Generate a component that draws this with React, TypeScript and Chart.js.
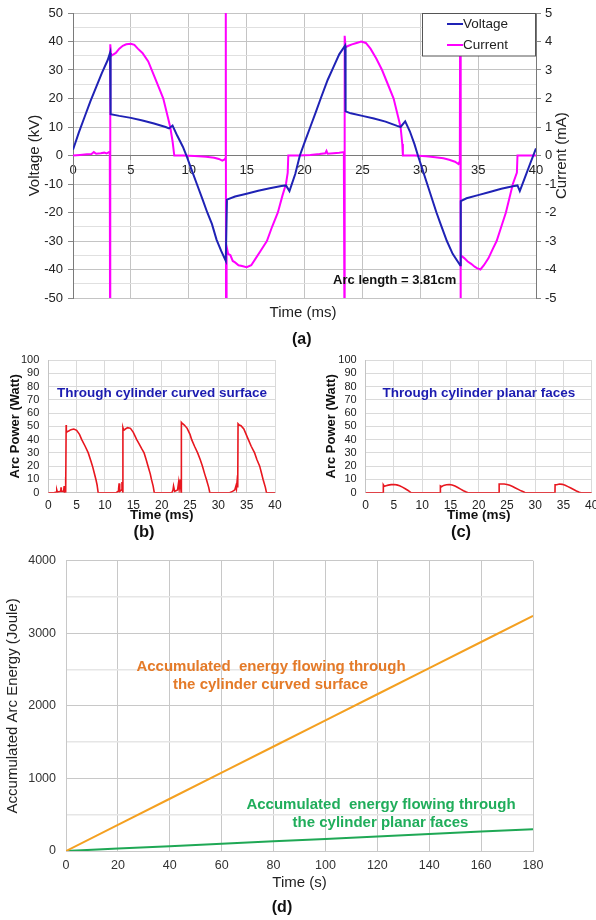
import React, { useEffect, useRef } from 'react';
import { Chart, registerables } from 'chart.js';

Chart.register(...registerables);

const FONT = "'Liberation Sans', Arial, Helvetica, sans-serif";
Chart.defaults.font.family = FONT;
Chart.defaults.color = '#222';

// ---------------- (a) Voltage / Current ----------------
const voltageTime = [
  0, 0.5, 1, 1.5, 2, 2.5, 3, 3.2,
  3.25, 4, 5, 6, 7, 8, 8.3, 8.6,
  9, 9.5, 9.8, 10.2, 10.7, 11.2, 11.6, 12, 12.4, 12.8, 13.2,
  13.3, 14, 15, 16, 17, 18, 18.4, 18.7,
  19.2, 19.6, 20, 20.5, 21, 21.4, 22, 22.5, 23, 23.5,
  23.55, 24, 25, 26, 27, 28, 28.3, 28.7,
  29.1, 29.5, 29.8, 30.2, 30.6, 31, 31.4, 31.8, 32.3, 32.8, 33.45,
  33.5, 34, 35, 36, 37, 38, 38.4, 38.6,
  39, 39.5, 40,
];
const voltageKV = [
  2, 8, 13.5, 19, 24, 29, 33.5, 36,
  14.5, 13.9, 13.2, 12.3, 11.2, 10, 9.5, 10.5,
  7, 3, 0, -4.5, -10, -15.5, -20, -24, -29.5, -33.5, -37,
  -15.5, -14.4, -13.4, -12.4, -11.5, -10.7, -10.5, -12.5,
  -6.5, 0, 4.5, 10, 15.5, 20, 26.5, 31, 35.5, 38.5,
  15.5, 14.8, 13.9, 13, 11.9, 10.4, 10, 12,
  8.5, 4, 0, -5, -10, -15, -20, -24.5, -30, -34.5, -38.5,
  -16, -15, -13.9, -12.8, -11.7, -10.8, -10.5, -12.5,
  -8.2, -2.8, 2.5,
];

const currentTime = [
  0, 0.6, 1.2, 1.6, 1.8, 2.0, 2.4, 2.7, 2.9, 3.1, 3.18,
  3.2, 3.22, 3.3, 3.5, 3.7, 4, 4.3, 4.6, 5, 5.3, 5.6, 6, 6.5, 7, 7.5, 7.8, 8.1, 8.4, 8.6, 8.75,
  9.5, 10.5, 11.5, 12.2, 12.6, 12.9, 13.1, 13.16,
  13.2, 13.22, 13.27, 13.4, 13.6, 13.8, 14.0, 14.3, 14.6, 15.0, 15.4, 15.8, 16.2, 16.75, 17.2, 17.7, 18.1, 18.4, 18.55, 18.6,
  19.5, 20.5, 21.3, 21.8, 21.9, 22.0, 22.5, 23.0, 23.4,
  23.45, 23.47, 23.55, 23.8, 24.1, 24.5, 24.9, 25.3, 25.7, 26.2, 26.7, 27.2, 27.7, 28.0, 28.3, 28.45, 28.5,
  29.5, 30.5, 31.3, 32.0, 32.5, 33.0, 33.3, 33.42,
  33.45, 33.47, 33.52, 33.8, 34.1, 34.4, 34.7, 34.9, 35.2, 35.5, 35.9, 36.3, 36.6, 37.0, 37.4, 37.7, 38.0, 38.35, 38.4,
  39, 40,
];
const currentMA = [
  0, 0.02, 0.04, 0.05, 0.12, 0.06, 0.08, 0.1, 0.07, 0.12, 0.1,
  -6, 3.9, 3.5, 3.55, 3.6, 3.75, 3.85, 3.9, 3.92, 3.88, 3.75, 3.6, 3.3, 2.8, 2.3, 2.0, 1.5, 1.0, 0.5, 0,
  0, -0.02, -0.04, -0.08, -0.12, -0.18, -0.14, -0.1,
  6, -6, -3.2, -3.45, -3.5, -3.7, -3.75, -3.85, -3.88, -3.92, -3.85, -3.6, -3.35, -3.0, -2.5, -2.0, -1.4, -1.0, -0.6, 0,
  0, 0.02, 0.05, 0.08, 0.16, 0.06, 0.08, 0.1, 0.12,
  -6, 4.2, 3.8, 3.85, 3.9, 3.95, 4.0, 3.95, 3.75, 3.4, 3.0, 2.5, 2.0, 1.5, 1.0, 0.4, 0,
  0, -0.03, -0.06, -0.1, -0.15, -0.22, -0.3, -0.2,
  6, -6, -3.5, -3.6, -3.72, -3.8, -3.9, -3.95, -4.0, -3.85, -3.6, -3.25, -3.0, -2.5, -2.0, -1.5, -1.0, -0.6, 0,
  0, 0,
];

// ---------------- (b) Arc power, curved surface ----------------
const powerTimeB = [
  0, 1.0, 1.4, 1.5, 1.6, 2.2, 2.25, 2.3, 2.7, 2.8, 2.85, 2.95, 3.0, 3.05, 3.1, 3.12,
  3.15, 3.18, 3.3, 3.6, 4.0, 4.5, 5.0, 5.5, 5.9, 6.5, 7.05, 7.5, 7.8, 8.1, 8.4, 8.6, 8.8,
  12.0, 12.3, 12.4, 12.5, 12.6, 12.9, 13.0, 13.1, 13.15,
  13.18, 13.3, 13.6, 14.0, 14.5, 15.0, 15.6, 16.0, 16.5, 16.9, 17.3, 17.6, 18.0, 18.2, 18.5, 18.7,
  21.8, 22.0, 22.1, 22.3, 22.8, 23.0, 23.1, 23.3, 23.4, 23.45,
  23.48, 23.7, 24.0, 24.5, 25.0, 25.3, 25.8, 26.35, 26.8, 27.2, 27.6, 27.9, 28.3, 28.5,
  32.0, 32.5, 32.9, 33.1, 33.2, 33.3, 33.4, 33.45,
  33.48, 33.7, 34.0, 34.5, 35.0, 35.3, 35.8, 36.4, 36.8, 37.3, 37.6, 37.9, 38.3, 38.5, 40,
];
const powerCurved = [
  0, 0, 0.5, 2, 0.5, 1, 4, 1, 1, 5, 1, 3, 12, 2, 3, 0,
  51, 45, 46, 46.5, 47.5, 48, 47, 44, 40, 35, 30, 24, 20, 15, 10, 6, 0,
  0, 1, 3, 7, 1, 2, 8, 3, 0,
  49, 47, 48, 49, 48.5, 45.5, 40, 37, 33, 30, 24.5, 20, 14, 10, 5, 0,
  0, 2, 5, 1, 2, 8, 3, 10, 2, 0,
  53, 52, 51, 48.5, 44, 40, 35, 30, 25, 20, 14, 10, 4, 0,
  0, 1, 2, 5, 3, 8, 11, 4,
  52, 51, 50.5, 48, 43, 40, 35, 30, 25, 20, 15, 10, 4, 0, 0,
];

// ---------------- (c) Arc power, planar faces ----------------
const powerTimeC = [
  0, 3.1, 3.12, 3.3, 3.6, 4.0, 4.5, 5.0, 5.5, 6.0, 6.5, 7.0, 7.5, 8.0,
  13.2, 13.22, 13.4, 13.8, 14.3, 14.8, 15.3, 15.8, 16.3, 16.8, 17.3, 17.8, 18.1,
  23.6, 23.62, 24.0, 24.5, 25.0, 25.5, 26.0, 26.5, 27.0, 27.5, 28.0, 28.2,
  33.5, 33.52, 33.8, 34.3, 34.8, 35.3, 35.8, 36.3, 36.8, 37.3, 37.8, 38.1, 40,
];
const powerPlanar = [
  0, 0, 6, 4.8, 5.2, 5.7, 6.1, 6.2, 5.9, 5.2, 4.2, 3.0, 1.7, 0,
  0, 5, 4.5, 5.5, 6.0, 6.2, 5.8, 5.0, 3.9, 2.7, 1.5, 0.5, 0,
  0, 6.5, 6.5, 6.5, 6.2, 5.6, 4.7, 3.6, 2.5, 1.4, 0.5, 0,
  0, 6, 6, 6.5, 6.3, 5.6, 4.6, 3.5, 2.4, 1.3, 0.4, 0, 0,
];

// ---------------- (d) Accumulated energy ----------------
const energyTime = [0, 20, 40, 60, 80, 100, 120, 140, 160, 180];
const energyCurved = [0, 360, 720, 1080, 1440, 1800, 2160, 2520, 2880, 3240];
const energyPlanar = [0, 33, 67, 100, 133, 167, 200, 233, 267, 300];

const toPoints = (xs: number[], ys: number[]) => xs.map((x, i) => ({ x, y: ys[i] }));

type TextItem = { text: string; x: number; y: number; font: string; color: string; rotate?: number; align?: CanvasTextAlign };

function textPlugin(id: string, items: TextItem[]) {
  return {
    id,
    afterDraw(chart: any) {
      const ctx = chart.ctx as CanvasRenderingContext2D;
      items.forEach((it) => {
        ctx.save();
        ctx.font = it.font;
        ctx.fillStyle = it.color;
        ctx.textAlign = it.align || 'center';
        ctx.textBaseline = 'middle';
        ctx.translate(it.x, it.y);
        if (it.rotate) ctx.rotate(it.rotate);
        ctx.fillText(it.text, 0, 0);
        ctx.restore();
      });
    },
  };
}

const boxLegend = {
  id: 'boxLegend',
  afterDraw(chart: any) {
    const ctx = chart.ctx as CanvasRenderingContext2D;
    const ds = chart.data.datasets;
    ctx.save();
    ctx.fillStyle = '#fff';
    ctx.fillRect(422, 13.5, 113, 42.5);
    ctx.strokeStyle = '#555';
    ctx.lineWidth = 1;
    ctx.strokeRect(422.5, 13.5, 113, 42.5);
    ds.forEach((d: any, i: number) => {
      const cy = 24 + i * 21;
      ctx.strokeStyle = d.borderColor;
      ctx.lineWidth = 2;
      ctx.beginPath();
      ctx.moveTo(447, cy);
      ctx.lineTo(463, cy);
      ctx.stroke();
      ctx.fillStyle = '#222';
      ctx.font = `13.5px ${FONT}`;
      ctx.textAlign = 'left';
      ctx.textBaseline = 'middle';
      ctx.fillText(d.label, 463, cy);
    });
    ctx.restore();
  },
};

const common = {
  responsive: false,
  maintainAspectRatio: false,
  animation: false as const,
  events: [] as any[],
  plugins: { legend: { display: false }, tooltip: { enabled: false } },
};

const fixW = (w: number) => (s: any) => { s.width = w; s.paddingTop = 0; s.paddingBottom = 0; };
const fixH = (h: number) => (s: any) => { s.height = h; s.paddingLeft = 0; s.paddingRight = 0; };

function makeA(): any {
  return {
    type: 'line',
    data: {
      datasets: [
        { label: 'Voltage', data: toPoints(voltageTime, voltageKV), borderColor: '#1f22b5', borderWidth: 2, pointRadius: 0, yAxisID: 'y', clip: 0 },
        { label: 'Current', data: toPoints(currentTime, currentMA), borderColor: '#ff00ff', borderWidth: 2, pointRadius: 0, yAxisID: 'y2', clip: 0 },
      ],
    },
    options: {
      ...common,
      layout: { padding: { top: 13, bottom: 52, left: 0, right: 0 } },
      scales: {
        x: {
          type: 'linear', position: { y: 0 }, min: 0, max: 40,
          ticks: { stepSize: 5, font: { size: 13 }, color: '#222', padding: 3, maxRotation: 0, autoSkip: false },
          grid: { color: '#c4c4c4', tickLength: 4, tickColor: '#999' },
          border: { color: '#7a7a7a' },
          afterFit: (s: any) => { s.paddingLeft = 0; s.paddingRight = 0; },
        },
        y: {
          type: 'linear', position: 'left', min: -50, max: 50,
          ticks: { stepSize: 5, autoSkip: false, font: { size: 13 }, color: '#222', padding: 5, callback: (v: any) => (v % 10 === 0 ? String(v) : '') },
          grid: {
            color: (c: any) => (c.tick && c.tick.value % 10 === 0 ? '#c4c4c4' : '#e0e0e0'),
            tickColor: (c: any) => (c.tick && c.tick.value % 10 === 0 ? '#888' : 'rgba(0,0,0,0)'),
            tickLength: 5,
          },
          border: { color: '#7a7a7a' },
          title: { display: true, text: 'Voltage (kV)', font: { size: 15 }, color: '#222', padding: { top: 26, bottom: 0 } },
          afterFit: fixW(73),
        },
        y2: {
          type: 'linear', position: 'right', min: -5, max: 5,
          ticks: { stepSize: 1, autoSkip: false, font: { size: 13 }, color: '#222', padding: 4 },
          grid: { drawOnChartArea: false, tickLength: 5, color: '#888' },
          border: { color: '#7a7a7a' },
          afterFit: fixW(60),
        },
      },
    },
    plugins: [
      boxLegend,
      textPlugin('textsA', [
        { text: 'Arc length = 3.81cm', x: 394.7, y: 280.7, font: `bold 13px ${FONT}`, color: '#111' },
        { text: 'Current (mA)', x: 561.7, y: 155.7, font: `15px ${FONT}`, color: '#222', rotate: -Math.PI / 2 },
        { text: 'Time (ms)', x: 303, y: 312.7, font: `15px ${FONT}`, color: '#222' },
        { text: '(a)', x: 301.7, y: 340, font: `bold 16px ${FONT}`, color: '#111' },
      ]),
    ],
  };
}

function makePower(xs: number[], ys: number[], yW: number, titlePad: number, padRight: number, note: string, noteX: number, tag: string, tagX: number): any {
  return {
    type: 'line',
    data: {
      datasets: [
        { label: 'Arc power', data: toPoints(xs, ys), borderColor: '#e8171f', borderWidth: 1.6, pointRadius: 0, clip: 0 },
      ],
    },
    options: {
      ...common,
      layout: { padding: { top: 10, right: padRight, left: 0, bottom: 0 } },
      scales: {
        x: {
          type: 'linear', min: 0, max: 40,
          ticks: { stepSize: 5, autoSkip: false, font: { size: 12 }, color: '#222', padding: 6, maxRotation: 0 },
          grid: { color: '#dadada', drawTicks: false },
          border: { color: '#c4c4c4' },
          title: { display: true, text: 'Time (ms)', font: { size: 13.5, weight: 'bold' }, color: '#111', padding: { top: 0, bottom: 22 } },
          afterFit: fixH(52.3),
        },
        y: {
          type: 'linear', min: 0, max: 100,
          ticks: { stepSize: 10, autoSkip: false, font: { size: 11 }, color: '#222', padding: 9 },
          grid: { color: '#dadada', drawTicks: false },
          border: { color: '#c4c4c4' },
          title: { display: true, text: 'Arc Power (Watt)', font: { size: 13, weight: 'bold' }, color: '#111', padding: { top: titlePad, bottom: 0 } },
          afterFit: fixW(yW),
        },
      },
    },
    plugins: [
      textPlugin('texts' + tag, [
        { text: note, x: noteX, y: 43, font: `bold 13.5px ${FONT}`, color: '#1c1cb0' },
        { text: tag, x: tagX, y: 182, font: `bold 16.5px ${FONT}`, color: '#111' },
      ]),
    ],
  };
}

function makeD(): any {
  return {
    type: 'line',
    data: {
      datasets: [
        { label: 'Curved surface', data: toPoints(energyTime, energyCurved), borderColor: '#f4a021', borderWidth: 2, pointRadius: 0 },
        { label: 'Planar faces', data: toPoints(energyTime, energyPlanar), borderColor: '#1fa855', borderWidth: 2, pointRadius: 0 },
      ],
    },
    options: {
      ...common,
      layout: { padding: { top: 15.7, right: 63, left: 0, bottom: 0 } },
      scales: {
        x: {
          type: 'linear', min: 0, max: 180,
          ticks: { stepSize: 20, autoSkip: false, font: { size: 12.5 }, color: '#333', padding: 7, maxRotation: 0 },
          grid: { color: '#c8c8c8', drawTicks: false },
          border: { color: '#c8c8c8' },
          title: { display: true, text: 'Time (s)', font: { size: 15 }, color: '#222', padding: { top: 0, bottom: 28.3 } },
          afterFit: fixH(69),
        },
        y: {
          type: 'linear', min: 0, max: 4000,
          ticks: { stepSize: 500, autoSkip: false, font: { size: 12.5 }, color: '#333', padding: 10, callback: (v: any) => (v % 1000 === 0 ? String(v) : '') },
          grid: {
            color: (c: any) => (c.tick && c.tick.value % 1000 === 0 ? '#c8c8c8' : '#e6e6e6'),
            lineWidth: (c: any) => (c.tick && c.tick.value % 1000 === 0 ? 1 : 1.5),
            drawTicks: false,
          },
          border: { color: '#c8c8c8' },
          title: { display: true, text: 'Accumulated Arc Energy (Joule)', font: { size: 15 }, color: '#222', padding: { top: 4, bottom: 0 } },
          afterFit: fixW(66),
        },
      },
    },
    plugins: [
      textPlugin('textsD', [
        { text: 'Accumulated  energy flowing through', x: 271, y: 121.7, font: `bold 15px ${FONT}`, color: '#e47a28' },
        { text: 'the cylinder curved surface', x: 270.5, y: 140, font: `bold 15px ${FONT}`, color: '#e47a28' },
        { text: 'Accumulated  energy flowing through', x: 381, y: 260, font: `bold 15px ${FONT}`, color: '#20ad5b' },
        { text: 'the cylinder planar faces', x: 380.5, y: 277.7, font: `bold 15px ${FONT}`, color: '#20ad5b' },
        { text: '(d)', x: 282, y: 363, font: `bold 16px ${FONT}`, color: '#111' },
      ]),
    ],
  };
}

function ChartPanel(props: { left: number; top: number; width: number; height: number; make: () => any }) {
  const { left, top, width, height, make } = props;
  const ref = useRef<HTMLCanvasElement>(null);
  useEffect(() => {
    const chart = new Chart(ref.current as HTMLCanvasElement, make());
    return () => chart.destroy();
  }, []);
  return (
    <canvas
      ref={ref}
      width={width}
      height={height}
      style={{ position: 'absolute', left, top, width, height, display: 'block' }}
    />
  );
}

export default function App() {
  return (
    <div style={{ position: 'absolute', left: 0, top: 0, width: 596, height: 920, background: '#fff', overflow: 'hidden' }}>
      <ChartPanel left={0} top={0} width={596} height={350} make={makeA} />
      <ChartPanel
        left={0} top={350} width={290} height={195}
        make={() => makePower(powerTimeB, powerCurved, 48.3, 8, 15, 'Through cylinder curved surface', 162, '(b)', 144)}
      />
      <ChartPanel
        left={300} top={350} width={296} height={195}
        make={() => makePower(powerTimeC, powerPlanar, 65.7, 24, 4.3, 'Through cylinder planar faces', 178.8, '(c)', 161)}
      />
      <ChartPanel left={0} top={545} width={596} height={375} make={makeD} />
    </div>
  );
}
